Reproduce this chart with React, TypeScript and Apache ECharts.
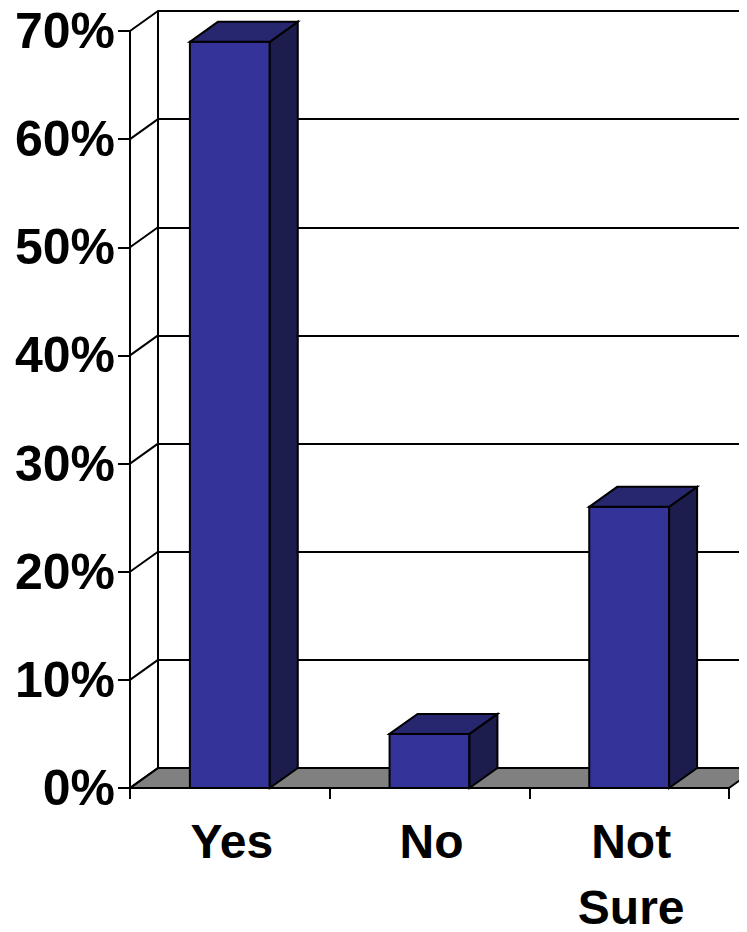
import { useEffect, useRef } from "react";
import * as echarts from "echarts";

// Survey answers and their share of responses (percent)
const categories = ["Yes", "No", "Not\nSure"];
const shares = [69, 5, 26];
// Value-axis ticks (percent)
const yTicks = [0, 10, 20, 30, 40, 50, 60, 70];

// Depth offset of the pseudo-3D box (pixels)
const DX = 28;
const DY = -20;
const FONT = "'Liberation Sans', Arial, Helvetica, sans-serif";

export default function App() {
  const ref = useRef<HTMLDivElement>(null);

  useEffect(() => {
    if (!ref.current) return;
    const chart = echarts.init(ref.current, null, { renderer: "svg" });

    const yMax = yTicks[yTicks.length - 1];

    chart.setOption({
      animation: false,
      backgroundColor: "#ffffff",
      grid: [
        // front plane: axes, labels, floor edge, bars
        { left: 130, right: 18, top: 31, bottom: 144, outerBoundsMode: "none", containLabel: false },
        // back wall: gridlines
        { left: 130 + DX, right: 0, top: 31 + DY, bottom: 144 - DY, outerBoundsMode: "none", containLabel: false },
      ],
      xAxis: [
        {
          type: "category",
          gridIndex: 0,
          data: categories,
          boundaryGap: true,
          axisLine: { show: true, lineStyle: { color: "#000", width: 2 } },
          axisTick: { show: true, length: 11, alignWithLabel: false, lineStyle: { color: "#000", width: 2 } },
          axisLabel: {
            color: "#000",
            fontFamily: FONT,
            fontWeight: "bold",
            fontSize: 48,
            lineHeight: 66,
            margin: 20,
            padding: [0, 0, 0, 4],
          },
          splitLine: { show: false },
          z: 5,
        },
        {
          type: "value",
          gridIndex: 1,
          min: 0,
          max: 1,
          show: false,
        },
      ],
      yAxis: [
        {
          type: "value",
          gridIndex: 0,
          min: 0,
          max: yMax,
          interval: 10,
          axisLine: { show: true, lineStyle: { color: "#000", width: 2 } },
          axisTick: { show: true, inside: false, length: 12, lineStyle: { color: "#000", width: 2 } },
          axisLabel: {
            color: "#000",
            fontFamily: FONT,
            fontWeight: "bold",
            fontSize: 50,
            margin: 15,
            formatter: "{value}%",
          },
          splitLine: { show: false },
          z: 5,
        },
        {
          type: "value",
          gridIndex: 1,
          min: 0,
          max: yMax,
          interval: 10,
          axisLine: { show: true, lineStyle: { color: "#000", width: 2 } },
          axisTick: { show: false },
          axisLabel: { show: false },
          splitLine: { show: true, lineStyle: { color: "#000", width: 2 } },
        },
      ],
      series: [
        // floor of the box
        {
          type: "custom",
          xAxisIndex: 0,
          yAxisIndex: 0,
          z: 1,
          silent: true,
          data: [[0, 0]],
          renderItem: (params: any, api: any) => {
            const cs = params.coordSys;
            const [, yb] = api.coord([0, 0]);
            const x0 = cs.x;
            const x1 = cs.x + cs.width;
            return {
              type: "polygon",
              shape: {
                points: [
                  [x0, yb],
                  [x1, yb],
                  [x1 + DX, yb + DY],
                  [x0 + DX, yb + DY],
                ],
              },
              style: { fill: "#808080", stroke: "#000", lineWidth: 2, lineJoin: "miter" },
            };
          },
        },
        // side-wall diagonals joining front ticks to the back wall
        {
          type: "custom",
          xAxisIndex: 0,
          yAxisIndex: 0,
          z: 2,
          silent: true,
          data: yTicks.map((v) => [0, v]),
          renderItem: (params: any, api: any) => {
            const cs = params.coordSys;
            const [, y] = api.coord([0, api.value(1)]);
            return {
              type: "line",
              shape: { x1: cs.x, y1: y, x2: cs.x + DX, y2: y + DY },
              style: { stroke: "#000", lineWidth: 2 },
            };
          },
        },
        // 3D columns
        {
          type: "custom",
          xAxisIndex: 0,
          yAxisIndex: 0,
          z: 3,
          data: shares.map((v, i) => [i, v]),
          renderItem: (params: any, api: any) => {
            const idx = api.value(0);
            const v = api.value(1);
            const [cx, yTop] = api.coord([idx, v]);
            const [, yBase] = api.coord([idx, 0]);
            const w = api.size([1, 0])[0] * 0.4;
            const l = cx - w / 2;
            const r = cx + w / 2;
            const stroke = { stroke: "#000", lineWidth: 2, lineJoin: "miter" };
            return {
              type: "group",
              children: [
                {
                  type: "polygon",
                  shape: { points: [[l, yBase], [r, yBase], [r, yTop], [l, yTop]] },
                  style: { fill: "#333399", ...stroke },
                },
                {
                  type: "polygon",
                  shape: { points: [[r, yBase], [r + DX, yBase + DY], [r + DX, yTop + DY], [r, yTop]] },
                  style: { fill: "#1c1c4d", ...stroke },
                },
                {
                  type: "polygon",
                  shape: { points: [[l, yTop], [l + DX, yTop + DY], [r + DX, yTop + DY], [r, yTop]] },
                  style: { fill: "#27276f", ...stroke },
                },
              ],
            };
          },
        },
      ],
    });

    return () => chart.dispose();
  }, []);

  return <div ref={ref} style={{ width: 747, height: 932, margin: -8 }} />;
}
